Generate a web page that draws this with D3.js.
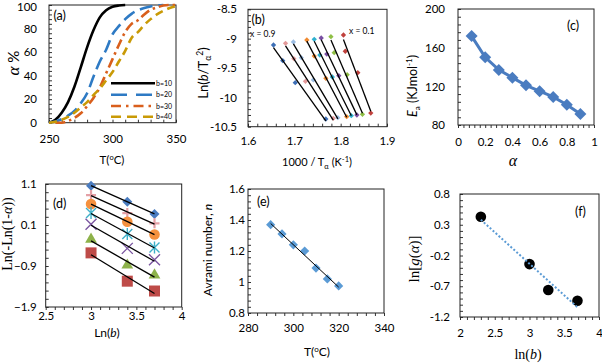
<!DOCTYPE html>
<html><head><meta charset="utf-8">
<script src="https://cdn.jsdelivr.net/npm/d3@7"></script>
<style>
body{margin:0;background:#fff}
svg{display:block}
text{fill:#000}
</style>
</head><body>
<svg id="c" width="602" height="363"></svg>
<script>
// ---------- DATA ----------
// (a) conversion curves
const aLegend = ["b=10","b=20","b=30","b=40"];
const aT10 = [250,255,260,265,270,275,280,285,290,295,300,305,310];
const aA10 = [0,2.5,8.5,17.5,30.5,47,64,78.5,89.5,95.5,98.5,99.6,100];
const aT20 = [250,255,260,265,270,275,280,285,290,295,300,305,310,315,320,325,330,335,340];
const aA20 = [0,1,3,6,10,16.5,25,39,52,62,75,82,88,92.5,95.5,97.5,98.8,99.6,100];
const aT30 = [255,260,265,270,275,280,285,290,295,300,305,310,315,320,325,330,335,340,345,350];
const aA30 = [0,0,1.5,4,8,14,21,30,42,54,66,77,84,87,92,96,98,99.5,100,100];
const aT40 = [250,255,260,265,270,275,280,285,290,295,300,305,310,315,320,325,330,335,340,345,350];
const aA40 = [0,0.8,2.5,5,8.5,13,17.5,23.5,29,36,43,52,61,72,77,83,88,92,95,97.5,99];

// (b) Ln(b/T^2) vs 1000/T, rows b=40,30,20,10
const bSeries = ["x = 0.9","s2","s3","s4","s5","s6","s7","x = 0.1"];
const bX = [
  [1.655,1.675,1.702,1.768],
  [1.681,1.699,1.724,1.784],
  [1.698,1.715,1.741,1.794],
  [1.727,1.743,1.768,1.813],
  [1.743,1.755,1.782,1.823],
  [1.758,1.770,1.796,1.835],
  [1.779,1.786,1.814,1.847],
  [1.806,1.810,1.837,1.865]];
const bY = [
  [-9.108,-9.376,-9.750,-10.369],
  [-9.079,-9.342,-9.727,-10.357],
  [-9.057,-9.325,-9.704,-10.347],
  [-9.023,-9.296,-9.675,-10.330],
  [-9.011,-9.279,-9.653,-10.313],
  [-8.989,-9.262,-9.631,-10.301],
  [-8.967,-9.239,-9.614,-10.289],
  [-8.938,-9.215,-9.580,-10.267]];

// (c) Ea vs alpha
const cAlpha = [0.1,0.2,0.3,0.4,0.5,0.6,0.7,0.8,0.9];
const cEa = [172,150,137,129,121,115,109,101,91.5];

// (d) Ln(-Ln(1-a)) vs Ln(b)
const dLnB = [3.0,3.4,3.7];
const dVals = [
  [1.06,0.67,0.37],
  [0.83,0.39,0.14],
  [0.61,0.18,-0.13],
  [0.39,-0.12,-0.45],
  [0.12,-0.47,-0.75],
  [-0.25,-0.88,-1.12],
  [-0.58,-1.27,-1.51]];

// (e) Avrami number
const eT = [290,295,300,305,310,315,320];
const eN = [1.37,1.31,1.24,1.20,1.09,1.02,0.975];

// (f) ln g(a) vs ln b
const fLnB = [2.30,3.00,3.27,3.69];
const fG = [0.43,-0.34,-0.76,-0.935];

// ---------- DRAWING ----------
const svg = d3.select("#c");
const SANS = "Lato, 'Open Sans', sans-serif";
const SERIF = "'Liberation Serif', 'DejaVu Serif', serif";

function regLine(xs, ys){
  const n = xs.length, mx = d3.mean(xs), my = d3.mean(ys);
  let sxy=0, sxx=0;
  for(let i=0;i<n;i++){sxy+=(xs[i]-mx)*(ys[i]-my); sxx+=(xs[i]-mx)**2;}
  const k = sxy/sxx, b0 = my-k*mx;
  const x0 = d3.min(xs), x1 = d3.max(xs);
  return [[x0,k*x0+b0],[x1,k*x1+b0]];
}

function rng(a,b,s){ const n=Math.round((b-a)/s); return d3.range(n+1).map(i=>+(a+i*s).toFixed(6)); }

function panel(c){
  const x = d3.scaleLinear().domain(c.xd).range([c.L,c.R]);
  const y = d3.scaleLinear().domain(c.yd).range([c.B,c.T]);
  const g = svg.append("g");
  const xdir = c.xIn ? 1 : -1;
  g.append("g").attr("transform",`translate(0,${c.B})`)
    .call(d3.axisBottom(x).tickValues(rng(c.xd[0],c.xd[1],c.xm)).tickSize(-3*xdir).tickFormat(""))
    .call(s=>s.select(".domain").remove())
    .call(s=>s.selectAll("text").remove())
    .call(s=>s.selectAll("line").attr("stroke","#333"));
  g.append("g").attr("transform",`translate(${c.L},0)`)
    .call(d3.axisLeft(y).tickValues(rng(c.yd[0],c.yd[1],c.ym)).tickSize(-3).tickFormat(""))
    .call(s=>s.select(".domain").remove())
    .call(s=>s.selectAll("text").remove())
    .call(s=>s.selectAll("line").attr("stroke","#333"));
  const xa = g.append("g").attr("transform",`translate(0,${c.B})`)
    .call(d3.axisBottom(x).tickValues(c.xt).tickSize(0).tickPadding(c.xdy-5).tickFormat(c.xf||(d=>d)));
  xa.select(".domain").remove();
  xa.attr("font-family",SANS).attr("font-size",11.5);
  xa.selectAll("text").attr("fill","#000").attr("dy","0.32em").attr("y",c.xdy);
  const ya = g.append("g").attr("transform",`translate(${c.L},0)`)
    .call(d3.axisLeft(y).tickValues(c.yt).tickSize(0).tickPadding(c.ygap).tickFormat(c.yf||(d=>d)));
  ya.select(".domain").remove();
  ya.attr("font-family",SANS).attr("font-size",11.5);
  ya.selectAll("text").attr("fill","#000");
  if(c.T < 8) ya.selectAll("text").filter(d=>d===c.yd[1]).attr("dy","0.45em");
  g.append("rect").attr("x",c.L).attr("y",c.T).attr("width",c.R-c.L).attr("height",c.B-c.T)
    .attr("fill","none").attr("stroke","#222").attr("stroke-width",1);
  const plot = g.append("g");
  return {x,y,g,plot};
}

function addText(parent, x, y, parts, opts){
  const t = parent.append("text").attr("x",x).attr("y",y)
    .attr("font-family",opts.font||SANS).attr("font-size",opts.size||12)
    .attr("text-anchor",opts.anchor||"middle");
  if(opts.rot) t.attr("transform",`rotate(-90,${x},${y})`);
  parts.forEach(p=>{
    const s = t.append("tspan").text(p.t);
    if(p.i) s.attr("font-style","italic");
    if(p.f) s.attr("font-family",p.f);
    if(p.sz) s.attr("font-size",p.sz);
    if(p.dy) s.attr("dy",p.dy);
  });
  return t;
}

// ---- (a)
{
  const p = panel({L:49,R:176,T:5,B:122.7,xd:[250,350],yd:[0,100],xt:[250,300,350],yt:[0,20,40,60,80,100],
    xm:10,ym:4,xdy:17,ygap:12,xIn:true});
  const line = d3.line().x(d=>p.x(d[0])).y(d=>p.y(d[1])).curve(d3.curveMonotoneX);
  const curves = [
    {T:aT10,A:aA10,c:"#000",dash:null},
    {T:aT20,A:aA20,c:"#2e7ac4",dash:"13,6"},
    {T:aT30,A:aA30,c:"#d95f1c",dash:"10,4,2.5,4"},
    {T:aT40,A:aA40,c:"#c99a06",dash:"8,5"}];
  curves.forEach(cv=>{
    p.plot.append("path").datum(cv.T.map((t,i)=>[t,cv.A[i]])).attr("d",line)
      .attr("fill","none").attr("stroke",cv.c).attr("stroke-width",2.6)
      .attr("stroke-dasharray",cv.dash);
  });
  const ly = [83.3,94.7,106,116.7];
  const ldash = ["none","16,9","10,5,2.5,5","10,6"];
  aLegend.forEach((l,i)=>{
    p.g.append("line").attr("x1",111).attr("x2",155).attr("y1",ly[i]).attr("y2",ly[i])
      .attr("stroke",curves[i].c).attr("stroke-width",2.6).attr("stroke-dasharray",ldash[i]);
    p.g.append("text").attr("x",156).attr("y",ly[i]+2.5).attr("font-family",SANS).attr("font-size",7).attr("fill","#333").text(l);
  });
  addText(svg,53.5,19.5,[{t:"(a)"}],{anchor:"start",size:12.5});
  addText(svg,19,63,[{t:"\u03b1",i:1,f:SERIF,sz:17},{t:" %"}],{rot:1,size:15});
  addText(svg,112,164,[{t:"T("},{t:"o",sz:7.5,dy:-4.5},{t:"C)",dy:4.5}],{size:11.5});
}

// ---- (b)
{
  const p = panel({L:248,R:387,T:9.3,B:126.7,xd:[1.6,1.9],yd:[-10.5,-8.5],xt:[1.6,1.7,1.8,1.9],yt:[-10.5,-10,-9.5,-9,-8.5],
    xm:0.02,ym:0.1,xdy:15,ygap:11,xIn:true,xf:d3.format(".1f"),yf:d=>d});
  const cols = ["#3d6fb6","#e49a9a","#9cbde3","#f08a30","#2fb0cf","#7a4fa3","#8fbf45","#c0413d"];
  const sym = d3.symbol().type(d3.symbolSquare).size(14);
  bX.forEach((xs,si)=>{
    xs.forEach((xv,i)=>{
      p.plot.append("path").attr("d",sym).attr("fill",cols[si])
        .attr("transform",`translate(${p.x(xv)},${p.y(bY[si][i])}) rotate(45)`);
    });
  });
  bX.forEach((xs,si)=>{
    const r = regLine(xs,bY[si]);
    p.plot.append("line").attr("x1",p.x(r[0][0])).attr("y1",p.y(r[0][1])).attr("x2",p.x(r[1][0])).attr("y2",p.y(r[1][1]))
      .attr("stroke","#000").attr("stroke-width",1.3);
  });
  addText(svg,250,37,[{t:bSeries[0]}],{anchor:"start",size:8.5});
  addText(svg,349,33.5,[{t:bSeries[7]}],{anchor:"start",size:8.5});
  addText(svg,251.5,24,[{t:"(b)"}],{anchor:"start",size:12.5});
  addText(svg,208,73,[{t:"Ln("},{t:"b",i:1},{t:"/T"},{t:"\u03b1",sz:8.5,dy:3},{t:"2",sz:8.5,dy:-8},{t:")",dy:5}],{rot:1,size:13});
  addText(svg,317,166,[{t:"1000 / T"},{t:"\u03b1",sz:7.5,dy:3},{t:" (K",dy:-3},{t:"-1",sz:7.5,dy:-4.5},{t:")",dy:4.5}],{size:11});
}

// ---- (c)
{
  const p = panel({L:458,R:594,T:9,B:125,xd:[0,1],yd:[80,200],xt:[0,0.2,0.4,0.6,0.8,1],yt:[80,120,160,200],
    xm:0.04,ym:8,xdy:17.7,ygap:13,xIn:false});
  const col = "#4a7cc0";
  const line = d3.line().x((d,i)=>p.x(cAlpha[i])).y(d=>p.y(d));
  p.plot.append("path").datum(cEa).attr("d",line).attr("fill","none").attr("stroke",col).attr("stroke-width",3);
  const sym = d3.symbol().type(d3.symbolSquare).size(72);
  cEa.forEach((v,i)=>p.plot.append("path").attr("d",sym).attr("fill",col)
    .attr("transform",`translate(${p.x(cAlpha[i])},${p.y(v)}) rotate(45)`));
  addText(svg,567,29.5,[{t:"(c)"}],{anchor:"start",size:12.5});
  addText(svg,417,86,[{t:"E",i:1},{t:"a",sz:8,dy:3},{t:" (KJmol",dy:-3},{t:"-1",sz:8,dy:-5},{t:")",dy:5}],{rot:1,size:12.5});
  addText(svg,513,166,[{t:"\u03b1",i:1,f:SERIF}],{size:16});
}

// ---- (d)
{
  const p = panel({L:45.7,R:181.7,T:184,B:307,xd:[2.5,4],yd:[-1.9,1.1],xt:[2.5,3,3.5,4],yt:[-1.9,-0.9,0.1,1.1],
    xm:0.1,ym:0.2,xdy:9.7,ygap:9,xIn:false,xf:d=>d,yf:d3.format(".1f")});
  const cols = ["#4a7cc0","#e4a0a6","#f5913e","#3fb0c9","#7a55a0","#8db24a","#be4b48"];
  dVals.forEach((vals,si)=>{
    vals.forEach((v,i)=>{
      const cx = p.x(dLnB[i]), cy = p.y(v);
      const c = cols[si];
      if(si===0){
        p.plot.append("path").attr("d",d3.symbol().type(d3.symbolSquare).size(50)).attr("fill",c)
          .attr("transform",`translate(${cx},${cy}) rotate(45)`);
      } else if(si===1){
        p.plot.append("path").attr("d",`M${cx-5},${cy}H${cx+5}M${cx},${cy-5}V${cy+5}`).attr("stroke",c).attr("stroke-width",2.2);
      } else if(si===2){
        p.plot.append("circle").attr("cx",cx).attr("cy",cy).attr("r",5.3).attr("fill",c);
      } else if(si===3){
        p.plot.append("path").attr("d",`M${cx-5},${cy-5}L${cx+5},${cy+5}M${cx-5},${cy+5}L${cx+5},${cy-5}M${cx},${cy-6}V${cy+6}`).attr("stroke",c).attr("stroke-width",1.4);
      } else if(si===4){
        p.plot.append("path").attr("d",`M${cx-5.5},${cy-5.5}L${cx+5.5},${cy+5.5}M${cx-5.5},${cy+5.5}L${cx+5.5},${cy-5.5}`).attr("stroke",c).attr("stroke-width",1.4);
      } else if(si===5){
        p.plot.append("path").attr("d",d3.symbol().type(d3.symbolTriangle).size(60)).attr("fill",c)
          .attr("transform",`translate(${cx},${cy})`);
      } else {
        p.plot.append("rect").attr("x",cx-5.5).attr("y",cy-5.5).attr("width",11).attr("height",11).attr("fill",c);
      }
    });
  });
  dVals.forEach(vals=>{
    const r = regLine(dLnB,vals);
    p.plot.append("line").attr("x1",p.x(r[0][0])).attr("y1",p.y(r[0][1])).attr("x2",p.x(r[1][0])).attr("y2",p.y(r[1][1]))
      .attr("stroke","#000").attr("stroke-width",1.3);
  });
  addText(svg,53,208,[{t:"(d)"}],{anchor:"start",size:12.5});
  addText(svg,12,234,[{t:"Ln(-Ln(1-"},{t:"\u03b1",i:1},{t:"))"}],{rot:1,size:14,font:SERIF});
  addText(svg,107,337,[{t:"Ln("},{t:"b",i:1},{t:")"}],{size:12});
}

// ---- (e)
{
  const p = panel({L:248,R:384,T:189,B:313,xd:[280,340],yd:[0.8,1.6],xt:[280,300,320,340],yt:[0.8,1,1.2,1.4,1.6],
    xm:4,ym:0.04,xdy:15,ygap:3,xIn:false,yf:d=>d});
  const col = "#5b9bd5";
  const sym = d3.symbol().type(d3.symbolSquare).size(42);
  eN.forEach((v,i)=>p.plot.append("path").attr("d",sym).attr("fill",col)
    .attr("transform",`translate(${p.x(eT[i])},${p.y(v)}) rotate(45)`));
  const r = regLine(eT,eN);
  p.plot.append("line").attr("x1",p.x(r[0][0])).attr("y1",p.y(r[0][1])).attr("x2",p.x(r[1][0])).attr("y2",p.y(r[1][1]))
    .attr("stroke","#000").attr("stroke-width",1);
  addText(svg,257,206,[{t:"(e)"}],{anchor:"start",size:12.5});
  addText(svg,212,250,[{t:"Avrami number, "},{t:"n",i:1}],{rot:1,size:12});
  addText(svg,317,356,[{t:"T("},{t:"o",sz:8,dy:-4.5},{t:"C)",dy:4.5}],{size:12});
}

// ---- (f)
{
  const p = panel({L:460,R:599,T:194,B:317,xd:[2,4],yd:[-1.2,0.8],xt:[2,2.5,3,3.5,4],yt:[-1.2,-0.7,-0.2,0.3,0.8],
    xm:0.1,ym:0.1,xdy:16,ygap:10,xIn:false,xf:d=>d,yf:d=>d});
  fG.forEach((v,i)=>p.plot.append("circle").attr("cx",p.x(fLnB[i])).attr("cy",p.y(v)).attr("r",5.3).attr("fill","#000"));
  const r = regLine(fLnB,fG);
  p.plot.append("line").attr("x1",p.x(r[0][0])).attr("y1",p.y(r[0][1])).attr("x2",p.x(r[1][0])).attr("y2",p.y(r[1][1]))
    .attr("stroke","#5b9bd5").attr("stroke-width",2).attr("stroke-dasharray","2,2");
  addText(svg,575,216,[{t:"(f)"}],{anchor:"start",size:12.5});
  addText(svg,419,259,[{t:"ln["},{t:"g",i:1},{t:"("},{t:"\u03b1",i:1},{t:")]"}],{rot:1,size:15,font:SERIF});
  addText(svg,528,359,[{t:"ln("},{t:"b",i:1},{t:")"}],{size:14,font:SERIF});
}
</script>
</body></html>
